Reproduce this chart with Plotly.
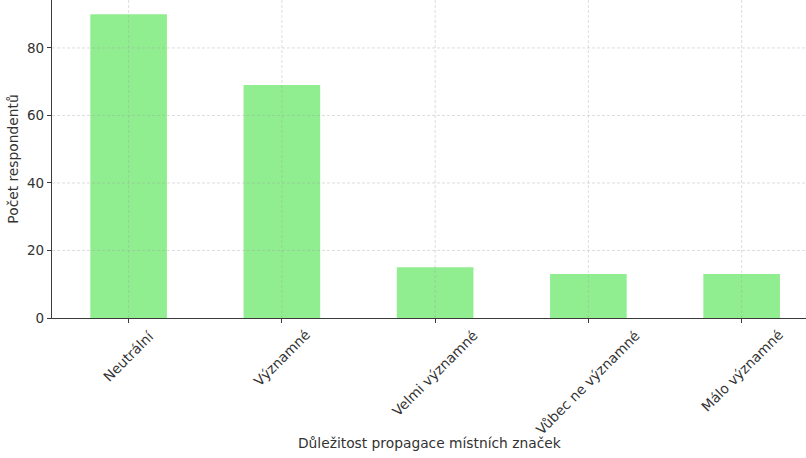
import plotly.graph_objects as go

# Survey results: importance of promoting local brands
categories = ["Neutrální", "Významné", "Velmi významné", "Vůbec ne významné", "Málo významné"]
counts = [90, 69, 15, 13, 13]
y_ticks = [0, 20, 40, 60, 80]

bar_color = "#90EE90"
axis_color = "#3a3a3a"
text_color = "#333333"
grid_color = "rgba(160,160,160,0.45)"
font_family = "DejaVu Sans"

fig = go.Figure(
    go.Bar(
        x=categories,
        y=counts,
        width=0.5,
        marker=dict(color=bar_color, line=dict(width=0)),
    )
)

# Dashed grid drawn over the bars
grid_shapes = []
for v in y_ticks[1:]:
    grid_shapes.append(dict(type="line", xref="paper", yref="y", x0=0, x1=1, y0=v, y1=v,
                            line=dict(color=grid_color, width=0.8, dash="3px,2px"), layer="above"))
for c in categories:
    grid_shapes.append(dict(type="line", xref="x", yref="paper", x0=c, x1=c, y0=0, y1=1,
                            line=dict(color=grid_color, width=0.8, dash="3px,2px"), layer="above"))

# Category labels rotated 45° and centred under each tick
label_annotations = [
    dict(x=c, y=-0.02, xref="x", yref="paper", text=c, textangle=-45,
         showarrow=False, xanchor="center", yanchor="top",
         font=dict(size=13.8, color=text_color))
    for c in categories
]
label_annotations.append(
    dict(x=0.5, y=-0.393, xref="paper", yref="paper", text="Důležitost propagace místních značek",
         showarrow=False, xanchor="center", yanchor="middle",
         font=dict(size=13.8, color=text_color))
)

fig.update_layout(
    width=806,
    height=458,
    margin=dict(l=52, r=0, t=0, b=140),
    plot_bgcolor="white",
    paper_bgcolor="white",
    font=dict(family=font_family, size=13.8, color=text_color),
    showlegend=False,
    shapes=grid_shapes,
    annotations=label_annotations,
    xaxis=dict(
        range=[-0.5, 4.42],
        showticklabels=False,
        showgrid=False,
        showline=True,
        linecolor=axis_color,
        linewidth=1.2,
        ticks="outside",
        ticklen=4,
        tickcolor=axis_color,
        layer="above traces",
    ),
    yaxis=dict(
        range=[0, 94.2],
        tickvals=y_ticks,
        showgrid=False,
        zeroline=False,
        showline=True,
        linecolor=axis_color,
        linewidth=1.2,
        ticks="outside",
        ticklen=4,
        tickcolor=axis_color,
        tickfont=dict(size=13.5, color=text_color),
        title=dict(text="Počet respondentů", font=dict(size=13.8), standoff=5),
        layer="above traces",
    ),
)

fig.write_html("out.html")
